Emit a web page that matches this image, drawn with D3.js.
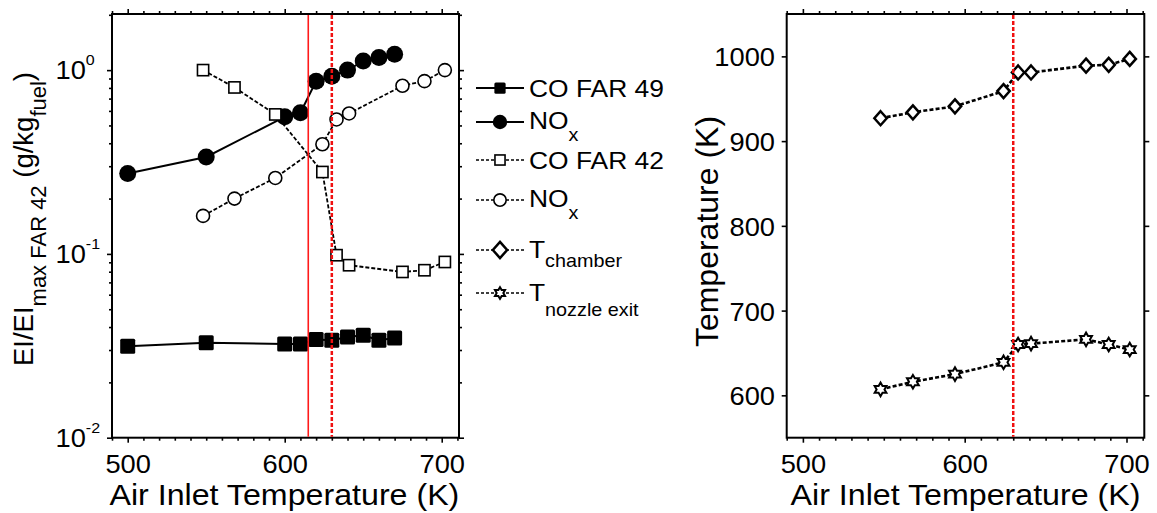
<!DOCTYPE html>
<html><head><meta charset="utf-8">
<script src="https://cdn.jsdelivr.net/npm/d3@7"></script>
<style>
body{margin:0;background:#fff;}
svg{display:block;background:#fff;}
text{font-family:"Liberation Sans",Arial,Helvetica,sans-serif;fill:#000;}
</style></head><body>
<svg id="chart" width="1157" height="513"></svg>
<script>
// ---------------- data ----------------
const tempFar49 = [500, 550, 600, 610, 620, 630, 640, 650, 660, 670];
const coFar49   = [0.0314, 0.0329, 0.0323, 0.0323, 0.0342, 0.0339, 0.0353, 0.0361, 0.0339, 0.0349];
const noxFar49  = [0.274, 0.337, 0.557, 0.586, 0.871, 0.927, 1.0, 1.12, 1.17, 1.22];
const tempFar42 = [548, 568, 594, 624, 633, 641, 675, 689, 702];
const coFar42   = [1.0, 0.805, 0.574, 0.279, 0.0984, 0.0868, 0.0798, 0.0815, 0.0904];
const noxFar42  = [0.161, 0.200, 0.259, 0.395, 0.539, 0.581, 0.822, 0.871, 1.0];
const tChamber    = [927, 934, 941, 959, 981, 981, 989, 990, 997];
const tNozzleExit = [607, 616, 625, 639, 660, 661, 666, 660, 654];
const transitionSolid  = 615;
const transitionDashed = 630;
const xTickValues    = [500, 600, 700];
const yLogTickValues = [0.01, 0.1, 1];
const yTempTickValues = [600, 700, 800, 900, 1000];
const xDomain    = [490, 711];
const yLogDomain = [0.01, 2.02];
const yTempDomain = [550, 1050];
const legendMain = ["CO FAR 49", "NO", "CO FAR 42", "NO", "T", "T"];
const legendSub  = ["", "x", "", "x", "chamber", "nozzle exit"];
const xTitle = "Air Inlet Temperature (K)";
const yTitleRight = "Temperature (K)";

// ---------------- layout ----------------
const svg = d3.select("#chart");
const PL = {x0: 112, x1: 459, y0: 14, y1: 437.7};
const PR = {x0: 786.7, x1: 1144.3, y0: 14, y1: 437.7};
const FONT_TICK = 25.5, K_TICK = 1.07;
const FONT_TITLE = 29, K_TITLE = 1.11;
const FONT_LEG = 24, FONT_LEG_SUB = 18, K_LEG = 1.1;

const xL = d3.scaleLinear().domain(xDomain).range([PL.x0, PL.x1]);
const yL = d3.scaleLog().domain(yLogDomain).range([PL.y1, PL.y0]);
const xR = d3.scaleLinear().domain(xDomain).range([PR.x0, PR.x1]);
const yR = d3.scaleLinear().domain(yTempDomain).range([PR.y1, PR.y0]);

function stretch(sel, k) {
  sel.each(function () {
    const t = d3.select(this);
    const x = +(t.attr("x") || 0);
    t.attr("x", x / k);
    const prev = t.attr("transform") || "";
    t.attr("transform", (prev + ` scale(${k},1)`).trim());
  });
}

function axisGroup(axis, tx, ty) {
  const g = svg.append("g").attr("transform", `translate(${tx},${ty})`).call(axis);
  g.select(".domain").remove();
  g.selectAll(".tick line").attr("stroke", "#000").attr("stroke-width", 1.6);
  return g;
}

const minorX = d3.range(490, 711, 10).filter(v => v % 100 !== 0);
const minorLog = d3.range(2, 10).flatMap(m => [m * 0.01, m * 0.1, m]).filter(v => v <= yLogDomain[1]);

// ---------- x axes (both panels) ----------
function xAxes(xs, P) {
  const gb = axisGroup(d3.axisBottom(xs).tickValues(xTickValues).tickSize(5).tickFormat(d3.format("d")), 0, P.y1);
  gb.selectAll("text").attr("font-size", FONT_TICK).attr("y", 35.6).attr("dy", "0");
  stretch(gb.selectAll("text"), K_TICK);
  axisGroup(d3.axisBottom(xs).tickValues(minorX).tickSize(3).tickFormat(""), 0, P.y1);
  axisGroup(d3.axisTop(xs).tickValues(xTickValues).tickSize(5).tickFormat(""), 0, P.y0);
  axisGroup(d3.axisTop(xs).tickValues(minorX).tickSize(3).tickFormat(""), 0, P.y0);
}
xAxes(xL, PL);
xAxes(xR, PR);

// ---------- left panel log y axes ----------
const gly = axisGroup(d3.axisLeft(yL).tickValues(yLogTickValues).tickSize(5).tickFormat(() => ""), PL.x0, 0);
gly.selectAll("text").each(function (d) {
  const t = d3.select(this);
  const e = Math.round(Math.log10(d));
  t.text(null).attr("x", -56.5).attr("dy", "0").attr("y", 8.5).attr("text-anchor", "start");
  t.append("tspan").attr("font-size", FONT_TICK).text("10");
  t.append("tspan").attr("font-size", 15).attr("dy", -14).text(String(e));
});
stretch(gly.selectAll("text"), K_TICK);
axisGroup(d3.axisLeft(yL).tickValues(minorLog).tickSize(3).tickFormat(""), PL.x0, 0);
axisGroup(d3.axisRight(yL).tickValues(yLogTickValues).tickSize(5).tickFormat(""), PL.x1, 0);
axisGroup(d3.axisRight(yL).tickValues(minorLog).tickSize(3).tickFormat(""), PL.x1, 0);

// ---------- right panel y axes ----------
const gry = axisGroup(d3.axisLeft(yR).tickValues(yTempTickValues).tickSize(5).tickFormat(d3.format("d")), PR.x0, 0);
gry.selectAll("text").attr("font-size", FONT_TICK).attr("x", -11.7).attr("dy", "0.37em");
stretch(gry.selectAll("text"), K_TICK);
axisGroup(d3.axisRight(yR).tickValues(yTempTickValues).tickSize(5).tickFormat(""), PR.x1, 0);

// ---------- frames ----------
[PL, PR].forEach(P => {
  svg.append("rect").attr("x", P.x0).attr("y", P.y0).attr("width", P.x1 - P.x0).attr("height", P.y1 - P.y0)
    .attr("fill", "none").attr("stroke", "#000").attr("stroke-width", 2);
});

// ---------- markers ----------
function hexagramPath(R) {
  const r = R / Math.sqrt(3);
  const pts = d3.range(12).map(i => {
    const a = (-90 + 30 * i) * Math.PI / 180;
    const rad = i % 2 === 0 ? R : r;
    return [rad * Math.cos(a), rad * Math.sin(a)];
  });
  return "M" + pts.map(p => p[0].toFixed(2) + "," + p[1].toFixed(2)).join("L") + "Z";
}
function drawMarker(g, type, cx, cy, s) {
  s = s || 1;
  if (type === "fsquare") {
    const a = 15 * s;
    g.append("rect").attr("x", cx - a / 2).attr("y", cy - a / 2).attr("width", a).attr("height", a).attr("rx", 1.5)
      .attr("fill", "#000");
  } else if (type === "fcircle") {
    g.append("circle").attr("cx", cx).attr("cy", cy).attr("r", 8.5 * s).attr("fill", "#000");
  } else if (type === "osquare") {
    const a = 11.2 * s;
    g.append("rect").attr("x", cx - a / 2).attr("y", cy - a / 2).attr("width", a).attr("height", a)
      .attr("fill", "#fff").attr("stroke", "#000").attr("stroke-width", 1.6);
  } else if (type === "ocircle") {
    g.append("circle").attr("cx", cx).attr("cy", cy).attr("r", 6.5 * s)
      .attr("fill", "#fff").attr("stroke", "#000").attr("stroke-width", 1.6);
  } else if (type === "diamond") {
    const w = 6.2 * s, h = 7 * s;
    g.append("path").attr("d", `M${cx},${cy - h}L${cx + w},${cy}L${cx},${cy + h}L${cx - w},${cy}Z`)
      .attr("fill", "#fff").attr("stroke", "#000").attr("stroke-width", 2.5).attr("stroke-linejoin", "miter");
  } else if (type === "star") {
    g.append("path").attr("d", hexagramPath(6.8 * s)).attr("transform", `translate(${cx},${cy})`)
      .attr("fill", "#fff").attr("stroke", "#000").attr("stroke-width", 2).attr("stroke-linejoin", "miter");
  }
}

const seriesLeft = [
  {xs: tempFar49, ys: coFar49,  marker: "fsquare", dash: null,  w: 2},
  {xs: tempFar49, ys: noxFar49, marker: "fcircle", dash: null,  w: 2},
  {xs: tempFar42, ys: coFar42,  marker: "osquare", dash: "4,2", w: 1.8},
  {xs: tempFar42, ys: noxFar42, marker: "ocircle", dash: "4,2", w: 1.8}
];
const seriesRight = [
  {xs: tempFar42, ys: tChamber,    marker: "diamond", dash: "4,2.2", w: 2.6},
  {xs: tempFar42, ys: tNozzleExit, marker: "star",    dash: "4,2.2", w: 2.6}
];

function drawSeries(list, xs, ys) {
  list.forEach(s => {
    const pts = s.xs.map((x, i) => [x, s.ys[i]]);
    const g = svg.append("g");
    g.append("path").datum(pts)
      .attr("d", d3.line().x(d => xs(d[0])).y(d => ys(d[1])))
      .attr("fill", "none").attr("stroke", "#000").attr("stroke-width", s.w)
      .attr("stroke-dasharray", s.dash);
    pts.forEach(p => drawMarker(g, s.marker, xs(p[0]), ys(p[1])));
  });
}
drawSeries(seriesLeft, xL, yL);
drawSeries(seriesRight, xR, yR);

// ---------- red transition lines ----------
svg.append("line").attr("x1", xL(transitionSolid)).attr("x2", xL(transitionSolid))
  .attr("y1", PL.y0 + 1).attr("y2", PL.y1 - 1).attr("stroke", "#ff1a1a").attr("stroke-width", 1.6);
[[xL, PL], [xR, PR]].forEach(([xs, P]) => {
  svg.append("line").attr("x1", xs(transitionDashed)).attr("x2", xs(transitionDashed))
    .attr("y1", P.y0 + 1).attr("y2", P.y1 - 1).attr("stroke", "#f01010").attr("stroke-width", 2.5)
    .attr("stroke-dasharray", "4,2");
});

// ---------- legend ----------
const legendMarkers = ["fsquare", "fcircle", "osquare", "ocircle", "diamond", "star"];
const legendDash = [null, null, "3,2", "3,2", "3,2", "3,2"];
const legendRowY = [88, 122, 160, 200, 250, 293];
const legendTextDy = [9, 7, 9, 7, 8.5, 8.5];
const legendSubDy = [0, 12.5, 0, 12.5, 9, 15];
const legendMarkerScale = [0.75, 0.85, 0.9, 0.95, 1.15, 0.85];
legendMain.forEach((label, i) => {
  const y = legendRowY[i];
  const g = svg.append("g");
  g.append("line").attr("x1", 476).attr("x2", 524).attr("y1", y).attr("y2", y)
    .attr("stroke", "#000").attr("stroke-width", legendDash[i] ? 1.6 : 2).attr("stroke-dasharray", legendDash[i]);
  drawMarker(g, legendMarkers[i], 500, y, legendMarkerScale[i]);
  const t = g.append("text").attr("x", 529).attr("y", y + legendTextDy[i]).attr("font-size", FONT_LEG);
  t.append("tspan").text(label);
  if (legendSub[i]) t.append("tspan").attr("font-size", FONT_LEG_SUB).attr("dy", legendSubDy[i]).text(legendSub[i]);
  stretch(t, K_LEG);
});

// ---------- titles ----------
[[PL, 284.4], [PR, 965.5]].forEach(([P, cx]) => {
  const t = svg.append("text").attr("x", cx).attr("y", 505).attr("text-anchor", "middle")
    .attr("font-size", FONT_TITLE).text(xTitle);
  stretch(t, K_TITLE);
});
svg.append("text").attr("transform", "translate(718,231.5) rotate(-90)").attr("text-anchor", "middle")
  .attr("font-size", 32).text(yTitleRight);

const yl = svg.append("text").attr("transform", "translate(33,219) rotate(-90)").attr("text-anchor", "middle")
  .attr("font-size", 27.5);
yl.append("tspan").text("EI/EI");
yl.append("tspan").attr("font-size", 22).attr("dy", 13).text("max FAR 42");
yl.append("tspan").attr("dy", -13).text(" (g/kg");
yl.append("tspan").attr("font-size", 22).attr("dy", 13).text("fuel");
yl.append("tspan").attr("dy", -13).text(")");
</script>
</body></html>
